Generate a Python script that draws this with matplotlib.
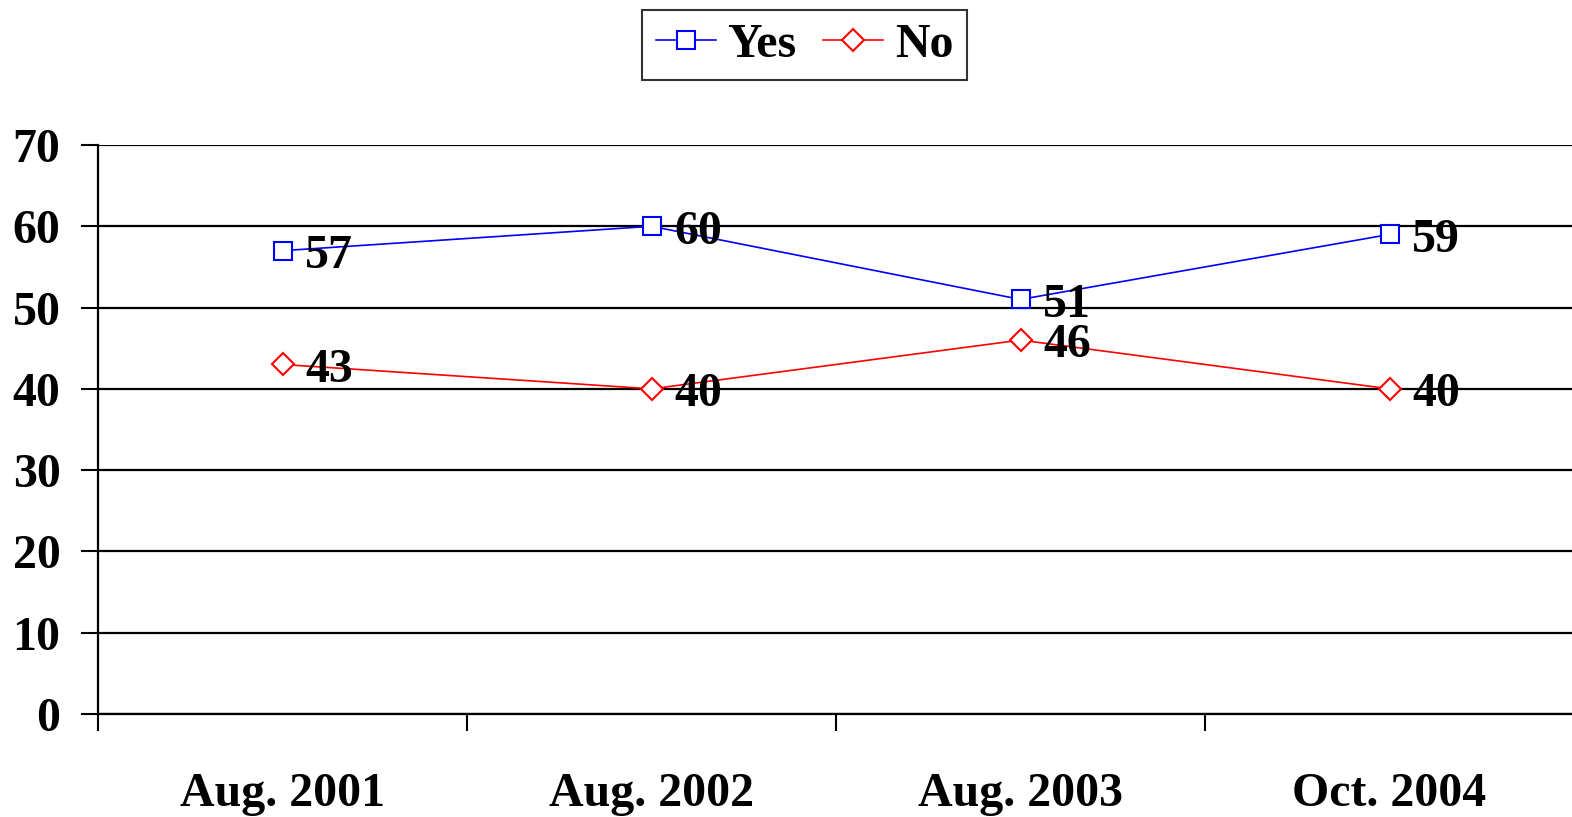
import matplotlib
matplotlib.use("Agg")
import matplotlib.pyplot as plt
from matplotlib.lines import Line2D

categories = ["Aug. 2001", "Aug. 2002", "Aug. 2003", "Oct. 2004"]
yes_values = [57, 60, 51, 59]
no_values = [43, 40, 46, 40]
y_ticks = [0, 10, 20, 30, 40, 50, 60, 70]

plt.rcParams['font.family'] = ['Liberation Serif', 'DejaVu Serif']
plt.rcParams['font.weight'] = 'bold'

FS = 34.5
W, H = 1572, 817
fig = plt.figure(figsize=(W / 100, H / 100), dpi=100)
ax = fig.add_axes([98 / W, (H - 714) / H, (1574 - 98) / W, (714 - 145) / H])

x = [i + 0.5 for i in range(len(categories))]
ax.plot(x, yes_values, color='#0000FF', lw=1.2, marker='s', ms=12.5,
        mfc='white', mec='#0000FF', mew=1.5, zorder=3, clip_on=False)
ax.plot(x, no_values, color='#FF0000', lw=1.2, marker='D', ms=11,
        mfc='white', mec='#FF0000', mew=1.5, zorder=3, clip_on=False)

for xi, v in zip(x, yes_values):
    ax.annotate(str(v), (xi, v), xytext=(16.5, -3.8), textcoords='offset points',
                ha='left', va='center', fontsize=FS, fontweight='bold', zorder=4)
for xi, v in zip(x, no_values):
    ax.annotate(str(v), (xi, v), xytext=(16.5, -3.8), textcoords='offset points',
                ha='left', va='center', fontsize=FS, fontweight='bold', zorder=4)

ax.set_xlim(0, len(categories))
ax.set_ylim(0, 70)
ax.set_yticks(y_ticks)
ax.set_yticklabels([str(t) for t in y_ticks], fontsize=FS, fontweight='bold')
ax.set_xticks(range(len(categories) + 1))
ax.set_xticklabels([])
ax.set_xticks(x, minor=True)
ax.set_xticklabels(categories, minor=True, fontsize=FS, fontweight='bold')
ax.tick_params(axis='x', which='minor', length=0, pad=42)
ax.tick_params(axis='x', which='major', length=12, width=1.5, direction='out', color='black')
ax.tick_params(axis='y', length=12, width=1.5, direction='out', pad=15, color='black')

ax.yaxis.grid(True, color='black', lw=1.6)
ax.set_axisbelow(True)
for s in ['top', 'right']:
    ax.spines[s].set_visible(False)
ax.spines['left'].set_linewidth(1.6)
ax.spines['bottom'].set_linewidth(1.6)

handles = [
    Line2D([], [], color='#0000FF', lw=1.2, marker='s', ms=12.5, mfc='white', mec='#0000FF', mew=1.5),
    Line2D([], [], color='#FF0000', lw=1.2, marker='D', ms=11, mfc='white', mec='#FF0000', mew=1.5),
]
leg = fig.legend(handles, ['Yes', 'No'], loc='center', bbox_to_anchor=(804.5 / W, 1 - 45 / H),
                 ncol=2, frameon=True, fancybox=False, edgecolor='black',
                 prop={'size': FS, 'weight': 'bold'}, handlelength=1.25,
                 handletextpad=0.25, columnspacing=0.55, borderpad=0.28,
                 borderaxespad=0.0)
leg.get_frame().set_linewidth(1.5)

fig.savefig('out.png', dpi=100)
